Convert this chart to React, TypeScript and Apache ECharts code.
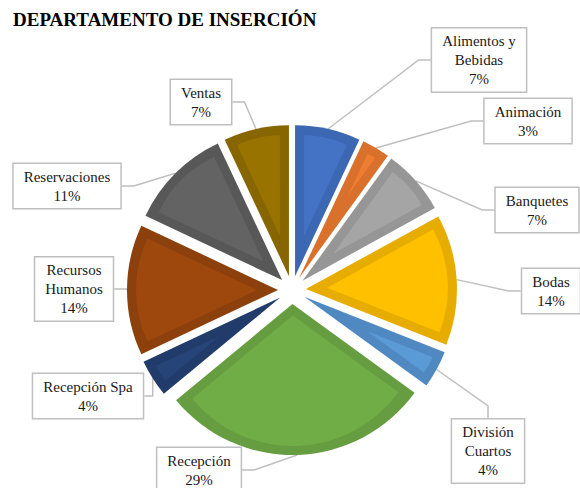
import React, { useEffect, useRef } from "react";
import * as echarts from "echarts";

const title = "DEPARTAMENTO DE INSERCIÓN";
const categories = [
  "Alimentos y Bebidas",
  "Animación",
  "Banquetes",
  "Bodas",
  "División Cuartos",
  "Recepción",
  "Recepción Spa",
  "Recursos Humanos",
  "Reservaciones",
  "Ventas",
];
const labelTexts = [
  "Alimentos y\nBebidas",
  "Animación",
  "Banquetes",
  "Bodas",
  "División\nCuartos",
  "Recepción",
  "Recepción Spa",
  "Recursos\nHumanos",
  "Reservaciones",
  "Ventas",
];
const values = [7, 3, 7, 14, 4, 29, 4, 14, 11, 7];
const outerColors = [
  "#3b67b3",
  "#d9702c",
  "#969696",
  "#e6ac00",
  "#5089c2",
  "#659d40",
  "#213c6a",
  "#8c400c",
  "#585858",
  "#876600",
];
const innerColors = [
  "#4472c4",
  "#ed7d31",
  "#a5a5a5",
  "#ffc000",
  "#5b9bd5",
  "#70ad47",
  "#264478",
  "#9e480e",
  "#636363",
  "#997300",
];
// label box centres (layout only)
const labelPositions: [number, number][] = [
  [479, 60],
  [528, 121],
  [537, 210],
  [551, 291],
  [488, 451],
  [199, 470],
  [88, 396],
  [74, 289],
  [67, 186],
  [201, 102],
];

const CX = 292;
const CY = 290;
const R = 151;
const OFFSET = 14;
const INSET = 9;
const FONT = "Liberation Serif";

export default function App() {
  const ref = useRef<HTMLDivElement>(null);
  useEffect(() => {
    if (!ref.current) return;
    const chart = echarts.init(ref.current, undefined, { renderer: "svg" });
    const total = values.reduce((a, b) => a + b, 0);

    const outerSeries: any[] = [];
    const innerSeries: any[] = [];
    let cum = 0;
    values.forEach((v, i) => {
      const startFrac = cum / total;
      const frac = v / total;
      cum += v;
      const mid = (startFrac + frac / 2) * 2 * Math.PI;
      const ux = Math.sin(mid);
      const uy = -Math.cos(mid);
      const rest = {
        value: total - v,
        name: "_rest",
        itemStyle: { color: "rgba(0,0,0,0)" },
        label: { show: false },
        labelLine: { show: false },
      };
      outerSeries.push({
        type: "pie",
        silent: true,
        center: [CX + OFFSET * ux, CY + OFFSET * uy],
        radius: R,
        startAngle: 90 - startFrac * 360,
        clockwise: true,
        avoidLabelOverlap: false,
        emphasis: { disabled: true },
        z: 2,
        label: {
          show: true,
          position: "outside",
          formatter: (p: any) =>
            labelTexts[i]
              .split("\n")
              .concat(Math.round((p.value / total) * 100) + "%")
              .map((t) => "{s|" + t + "}")
              .join("\n"),
          fontFamily: FONT,
          fontSize: 15,
          lineHeight: 19,
          color: "#1a1a1a",
          align: "center",
          backgroundColor: "#fff",
          borderColor: "#bfbfbf",
          borderWidth: 1.5,
          padding: [3, 10],
          rich: {
            s: {
              fontFamily: FONT,
              fontSize: 15,
              lineHeight: 19,
              color: "#1a1a1a",
              align: "center",
            },
          },
        },
        labelLine: {
          show: true,
          length: 12,
          length2: 12,
          lineStyle: { color: "#bfbfbf", width: 1.5 },
        },
        labelLayout: (params: any) => {
          if (params.dataIndex !== 0) return {};
          const pos = labelPositions[i];
          return { x: pos[0], y: pos[1], align: "center", verticalAlign: "middle" };
        },
        data: [
          { value: v, name: categories[i], itemStyle: { color: outerColors[i] } },
          rest,
        ],
      });

      const theta = frac * 2 * Math.PI;
      const s = INSET / Math.sin(theta / 2);
      const r = R - INSET - s;
      if (r <= 1) return;
      const shift = OFFSET + s;
      innerSeries.push({
        type: "pie",
        silent: true,
        center: [CX + shift * ux, CY + shift * uy],
        radius: r,
        startAngle: 90 - startFrac * 360,
        clockwise: true,
        label: { show: false },
        labelLine: { show: false },
        emphasis: { disabled: true },
        z: 3,
        data: [
          { value: v, name: categories[i], itemStyle: { color: innerColors[i] } },
          { ...rest },
        ],
      });
    });

    chart.setOption({
      animation: false,
      graphic: [
        {
          type: "text",
          left: 13,
          top: 10,
          style: {
            text: title,
            fontFamily: FONT,
            fontWeight: "bold",
            fontSize: 19,
            fill: "#000",
          },
        },
      ],
      series: [...outerSeries, ...innerSeries],
    });
    return () => chart.dispose();
  }, []);
  return (
    <div
      ref={ref}
      style={{ position: "absolute", left: 0, top: 0, width: 580, height: 488 }}
    />
  );
}
